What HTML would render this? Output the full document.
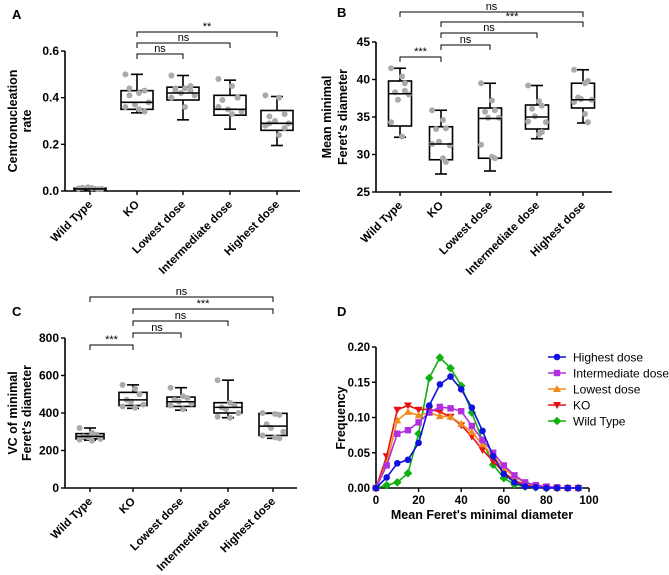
<!DOCTYPE html>
<html><head><meta charset="utf-8">
<style>
html,body{margin:0;padding:0;background:#fff;}
svg{display:block;font-family:"Liberation Sans",Arial,sans-serif;}
.b{font-weight:bold;}
</style></head>
<body>
<svg id="fig" width="669" height="575" viewBox="0 0 669 575" xmlns="http://www.w3.org/2000/svg">
<text x="12" y="19" class="b" font-size="13">A</text>
<text x="337" y="17" class="b" font-size="13">B</text>
<text x="12" y="316" class="b" font-size="13">C</text>
<text x="337" y="316" class="b" font-size="13">D</text>
</svg>
<script>
const NS="http://www.w3.org/2000/svg";
const svg=document.getElementById('fig');
function mk(tag,attrs,parent,txt){const e=document.createElementNS(NS,tag);for(const k in attrs)e.setAttribute(k,attrs[k]);if(txt!==undefined)e.textContent=txt;(parent||svg).appendChild(e);return e;}

const groups=["Wild Type","KO","Lowest dose","Intermediate dose","Highest dose"];

// Panel A data: [whiskerLow, q1, median, q3, whiskerHigh]
const aStats=[[0.004,0.006,0.009,0.012,0.015],[0.335,0.35,0.38,0.43,0.5],[0.305,0.39,0.42,0.445,0.495],[0.265,0.325,0.35,0.41,0.475],[0.195,0.26,0.29,0.345,0.405]];
const aDots=[[0.01,0.012,0.008,0.014,0.016,0.009,0.011,0.013],[0.5,0.42,0.43,0.41,0.37,0.38,0.36,0.35,0.34,0.44],[0.495,0.44,0.45,0.43,0.42,0.41,0.4,0.36,0.43,0.44],[0.48,0.45,0.4,0.39,0.35,0.34,0.36,0.33,0.4],[0.41,0.4,0.33,0.32,0.3,0.29,0.28,0.24,0.27,0.29]];
const aTicks=[0,0.2,0.4,0.6];
const aTickLabels=["0.0","0.2","0.4","0.6"];
const aBrackets=[[1,2,"ns"],[1,3,"ns"],[1,4,"**"]];

// Panel B
const bStats=[[32.3,33.8,38.1,39.8,41.5],[27.4,29.3,31.4,33.7,35.9],[27.8,29.5,34.8,36.2,39.5],[32.1,33.4,35.0,36.6,39.2],[34.2,36.2,37.3,39.5,41.3]];
const bDots=[[41.5,40.4,38.5,38.3,37.3,38,34.3,32.4,39.5],[35.9,34.6,33.5,33.4,31.7,31.2,31.4,29.5,29],[39.5,37.2,35.9,35.7,34.9,34.9,31.3,29.7,29.5],[39.2,37.1,36.5,36.1,35.1,34.3,34.4,32.7,33],[41.3,39.5,39.8,37.6,37.4,37.3,37.0,35.4,34.3]];
const bTicks=[25,30,35,40,45];
const bTickLabels=["25","30","35","40","45"];
const bBrackets=[[0,1,"***"],[1,2,"ns"],[1,3,"ns"],[1,4,"***"],[0,4,"ns"]];

// Panel C
const cStats=[[255,262,275,290,320],[425,440,470,510,550],[415,435,460,485,535],[375,400,430,455,575],[265,280,330,398,400]];
const cDots=[[320,295,285,275,270,262,258,252],[550,530,500,470,460,445,435,428],[535,490,480,470,460,450,440,420],[575,455,440,430,420,400,380,375],[400,395,390,340,320,300,280,270,265]];
const cTicks=[0,200,400,600,800];
const cTickLabels=["0","200","400","600","800"];
const cBrackets=[[0,1,"***"],[1,2,"ns"],[1,3,"ns"],[1,4,"***"],[0,4,"ns"]];

// Panel D
const dX=[0,5,10,15,20,25,30,35,40,45,50,55,60,65,70,75,80,85,90,95];
const dHighest=[0,.015,.035,.04,.064,.117,.147,.158,.14,.114,.081,.045,.02,.008,.002,.001,0,0,0,0];
const dIntermediate=[0,.032,.077,.082,.093,.107,.115,.113,.109,.088,.068,.05,.032,.018,.008,.004,.002,.001,0,0];
const dLowest=[0,.035,.096,.108,.103,.107,.102,.101,.091,.079,.062,.045,.028,.016,.007,.003,.001,0,0,0];
const dKO=[0,.045,.111,.117,.111,.112,.108,.101,.089,.073,.054,.038,.022,.011,.004,.002,.001,0,0,0];
const dWT=[0,.004,.008,.021,.077,.156,.185,.17,.145,.107,.067,.033,.014,.005,.002,.001,0,0,0,0];
const dXTicks=[0,20,40,60,80,100];
const dYTicks=[0,0.05,0.1,0.15,0.2];
const dYTickLabels=["0.00","0.05","0.10","0.15","0.20"];

function boxPanel(o){
  const g=mk('g',{});
  
  
  const y=v=>o.y0+(v-o.vmin)/(o.vmax-o.vmin)*(o.y1-o.y0);
  const ya=mk('line',{x1:o.ax,y1:y(o.vmax),x2:o.ax,y2:o.y0,stroke:'#000','stroke-width':1.6},g);
  
  const xa=mk('line',{x1:o.ax,y1:o.y0,x2:o.axEnd,y2:o.y0,stroke:'#000','stroke-width':1.6},g);
  
  o.ticks.forEach((t,i)=>{
    mk('line',{x1:o.ax-4,y1:y(t),x2:o.ax,y2:y(t),stroke:'#000','stroke-width':1.4},g);
    const tl=mk('text',{x:o.ax-6,y:y(t)+4,'text-anchor':'end','font-size':12,class:'b'},g,o.tickLabels[i]);
    
  });
  o.titles.forEach((tt,i)=>{
    const t=mk('text',{x:tt[0],y:(o.y0+y(o.vmax))/2,'text-anchor':'middle','font-size':12.5,class:'b',transform:`rotate(-90 ${tt[0]} ${(o.y0+y(o.vmax))/2})`},g,tt[1]);
    
  });
  groups.forEach((gn,i)=>{
    const cx=o.cx[i];const s=o.stats[i];const w=o.bw;
    mk('line',{x1:cx,y1:o.y0,x2:cx,y2:o.y0+4,stroke:'#000','stroke-width':1.4},g);
    const xl=mk('text',{x:cx+3,y:o.y0+14,'text-anchor':'end','font-size':11.5,class:'b',transform:`rotate(-45 ${cx+3} ${o.y0+14})`},g,gn);
    
    const bg=mk('g',{},g);
    
    
    mk('line',{x1:cx,y1:y(s[0]),x2:cx,y2:y(s[4]),stroke:'#000','stroke-width':1.6},bg);
    mk('line',{x1:cx-6,y1:y(s[0]),x2:cx+6,y2:y(s[0]),stroke:'#000','stroke-width':1.6},bg);
    mk('line',{x1:cx-6,y1:y(s[4]),x2:cx+6,y2:y(s[4]),stroke:'#000','stroke-width':1.6},bg);
    mk('rect',{x:cx-w/2,y:y(s[3]),width:w,height:y(s[1])-y(s[3]),fill:'#fff',stroke:'#000','stroke-width':1.6},bg);
    o.dots[i].forEach((d,j)=>{
      const c=mk('circle',{cx:cx+((j%3)-1)*w*0.3+(j%2?2:-2),cy:y(d),r:3,fill:'#aaa'},bg);
      
    });
    mk('line',{x1:cx-w/2,y1:y(s[2]),x2:cx+w/2,y2:y(s[2]),stroke:'#000','stroke-width':1.6},bg);
  });
  o.brackets.forEach((b,k)=>{
    const by=o.by[k];const x1=o.cx[b[0]],x2=o.cx[b[1]];
    const bg=mk('g',{},g);
    
    
    mk('path',{d:`M${x1} ${by+5}V${by}H${x2}V${by+5}`,fill:'none',stroke:'#000','stroke-width':1},bg);
    mk('text',{x:(x1+x2)/2,y:by-2,'text-anchor':'middle','font-size':11},bg,b[2]);
  });
}

boxPanel({name:'panel-a',ax:65,axEnd:300,y0:191,y1:51,vmin:0,vmax:0.6,ticks:aTicks,tickLabels:aTickLabels,
  cx:[90,137,183,230,277],bw:32,stats:aStats,dots:aDots,brackets:aBrackets,by:[54,43,32],
  titles:[[17,'Centronucleation'],[31,'rate']]});
boxPanel({name:'panel-b',ax:376,axEnd:612,y0:192,y1:42,vmin:25,vmax:45,ticks:bTicks,tickLabels:bTickLabels,
  cx:[400,441,490,537,583],bw:23,stats:bStats,dots:bDots,brackets:bBrackets,by:[57,45,33,22,12],
  titles:[[331,'Mean minimal'],[347,"Feret's diameter"]]});
boxPanel({name:'panel-c',ax:65,axEnd:297,y0:488,y1:338,vmin:0,vmax:800,ticks:cTicks,tickLabels:cTickLabels,
  cx:[90,133,181,228,273],bw:28,stats:cStats,dots:cDots,brackets:cBrackets,by:[345,333,321,309,297],
  titles:[[17,'VC of minimal'],[31,"Feret's diameter"]]});

(function(){
  const g=mk('g',{});
  
  
  const X=v=>376+v*(589-376)/100;
  const Y=v=>488-v*(488-347)/0.2;
  mk('line',{x1:376,y1:Y(0.2),x2:376,y2:488,stroke:'#000','stroke-width':1.6},g);
  mk('line',{x1:376,y1:488,x2:589,y2:488,stroke:'#000','stroke-width':1.6},g);
  dYTicks.forEach((t,i)=>{
    mk('line',{x1:372,y1:Y(t),x2:376,y2:Y(t),stroke:'#000','stroke-width':1.4},g);
    const tl=mk('text',{x:370,y:Y(t)+4,'text-anchor':'end','font-size':11.5,class:'b'},g,dYTickLabels[i]);
    
  });
  dXTicks.forEach(t=>{
    mk('line',{x1:X(t),y1:488,x2:X(t),y2:492,stroke:'#000','stroke-width':1.4},g);
    const tl=mk('text',{x:X(t),y:504,'text-anchor':'middle','font-size':11.5,class:'b'},g,String(t));
    
  });
  const xt=mk('text',{x:482,y:519,'text-anchor':'middle','font-size':12.5,class:'b'},g,"Mean Feret's minimal diameter");
  
  const yt=mk('text',{x:345,y:418,'text-anchor':'middle','font-size':12.5,class:'b',transform:'rotate(-90 345 418)'},g,'Frequency');
  
  const series=[["Highest dose",dHighest,'#1010e0','circle'],["Intermediate dose",dIntermediate,'#b030e0','square'],["Lowest dose",dLowest,'#f08c1c','tri'],["KO",dKO,'#e81010','dtri'],["Wild Type",dWT,'#10b010','diamond']];
  function marker(par,x,y,c,sh){
    let e;
    if(sh==='circle')e=mk('circle',{cx:x,cy:y,r:3.3,fill:c},par);
    else if(sh==='square')e=mk('rect',{x:x-3.2,y:y-3.2,width:6.4,height:6.4,fill:c},par);
    else if(sh==='tri')e=mk('path',{d:`M${x} ${y-4}L${x+4} ${y+3}L${x-4} ${y+3}Z`,fill:c},par);
    else if(sh==='dtri')e=mk('path',{d:`M${x} ${y+4}L${x+4} ${y-3}L${x-4} ${y-3}Z`,fill:c},par);
    else e=mk('path',{d:`M${x} ${y-4.3}L${x+4.3} ${y}L${x} ${y+4.3}L${x-4.3} ${y}Z`,fill:c},par);
    
    
  }
  series.slice().reverse().forEach(s=>{
    const sg=mk('g',{},g);
    
    
    mk('polyline',{points:dX.map((x,i)=>X(x)+','+Y(s[1][i])).join(' '),fill:'none',stroke:s[2],'stroke-width':1.6},sg);
    dX.forEach((x,i)=>marker(sg,X(x),Y(s[1][i]),s[2],s[3]));
  });
  series.forEach((s,i)=>{
    const ly=357+i*16;
    const lg=mk('g',{},g);
    
    
    mk('line',{x1:548,y1:ly,x2:566,y2:ly,stroke:s[2],'stroke-width':1.6},lg);
    marker(lg,557,ly,s[2],s[3]);
    mk('text',{x:573,y:ly+4.5,'font-size':12},lg,s[0]);
  });
})();
</script>
</body></html>
